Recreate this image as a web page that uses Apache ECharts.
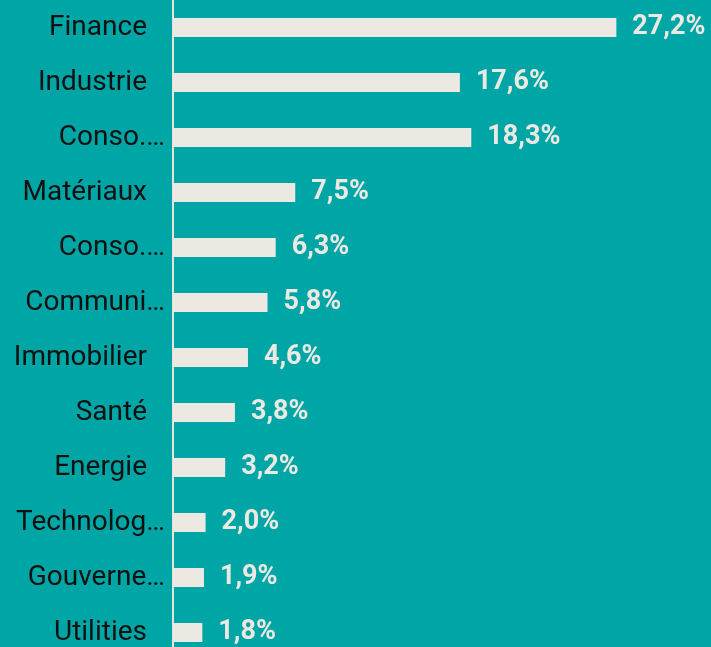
<!DOCTYPE html>
<html>
<head>
<meta charset="utf-8">
<script src="https://cdn.jsdelivr.net/npm/echarts@6/dist/echarts.min.js"></script>
<style>
  html, body { margin: 0; padding: 0; background: #00a6a6; overflow: hidden; width: 711px; height: 647px; }
  /* the drawing is a little taller than the window, so the last band is cut at the bottom */
  #chart { width: 711px; height: 660px; }
</style>
</head>
<body>
<div id="chart"></div>
<script>
// Sector labels as shown on the axis (long names are shortened with an ellipsis)
const categories = ['Finance', 'Industrie', 'Conso.…', 'Matériaux', 'Conso.…', 'Communi…',
  'Immobilier', 'Santé', 'Energie', 'Technolog…', 'Gouverne…', 'Utilities'];
// Weight of each sector, in percent
const weights = [27.2, 17.6, 18.3, 7.5, 6.3, 5.8, 4.6, 3.8, 3.2, 2.0, 1.9, 1.8];

const chart = echarts.init(document.getElementById('chart'), null, { renderer: 'canvas' });

chart.setOption({
  backgroundColor: '#00a6a6',
  animation: false,
  grid: { left: 173, top: 0, width: 489, bottom: 0, containLabel: false },
  xAxis: {
    type: 'value',
    min: 0,
    max: 30,
    show: false
  },
  yAxis: {
    type: 'category',
    data: categories,
    inverse: true,
    axisLine: { show: true, lineStyle: { color: '#e6e2dc', width: 2 } },
    axisTick: { show: false },
    axisLabel: {
      margin: 8,
      fontFamily: 'Roboto',
      fontSize: 28,
      color: '#111111',
      formatter: function (name) {
        return name.endsWith('…') ? '{cut|' + name + '}' : '{full|' + name + '}';
      },
      rich: {
        full: { fontFamily: 'Roboto', fontSize: 28, color: '#111111', padding: [0, 18, 0, 0] },
        cut: { fontFamily: 'Roboto', fontSize: 28, color: '#111111' }
      }
    }
  },
  series: [{
    type: 'bar',
    data: weights,
    barWidth: 19,
    itemStyle: { color: '#ece8e2' },
    label: {
      show: true,
      position: 'right',
      distance: 16,
      fontFamily: 'Roboto',
      fontWeight: 'bold',
      fontSize: 27,
      color: '#ece8e2',
      formatter: function (p) {
        return p.value.toFixed(1).replace('.', ',') + '%';
      }
    }
  }]
});
</script>
</body>
</html>
